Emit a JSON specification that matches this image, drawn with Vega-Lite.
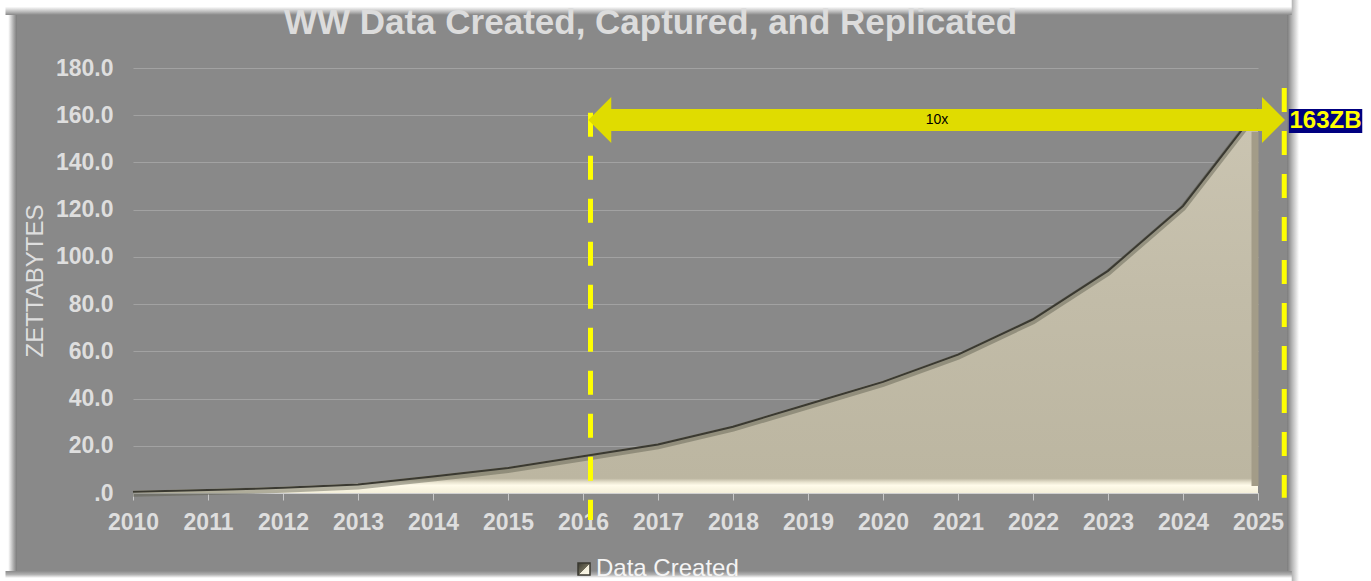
{
  "$schema": "https://vega.github.io/schema/vega-lite/v6.json",
  "width": 1125,
  "height": 425,
  "autosize": {"type": "none"},
  "padding": {"left": 133, "top": 68, "right": 113, "bottom": 88},
  "background": "#898989",
  "title": {
    "text": "WW Data Created, Captured, and Replicated",
    "font": "Liberation Sans",
    "fontSize": 35,
    "fontWeight": "bold",
    "color": "#dcdcdc",
    "anchor": "middle",
    "frame": "group",
    "dx": -45,
    "offset": -41
  },
  "config": {
    "view": {"stroke": null},
    "font": "Liberation Sans"
  },
  "data": {
    "values": [
      {"year": 2010, "zb": 1.0},
      {"year": 2011, "zb": 1.7},
      {"year": 2012, "zb": 2.6},
      {"year": 2013, "zb": 4.0},
      {"year": 2014, "zb": 7.4},
      {"year": 2015, "zb": 11.0},
      {"year": 2016, "zb": 16.0},
      {"year": 2017, "zb": 21.0},
      {"year": 2018, "zb": 28.5},
      {"year": 2019, "zb": 38.0},
      {"year": 2020, "zb": 47.5},
      {"year": 2021, "zb": 59.0},
      {"year": 2022, "zb": 74.0},
      {"year": 2023, "zb": 94.5},
      {"year": 2024, "zb": 122.0},
      {"year": 2025, "zb": 163.0}
    ]
  },
  "layer": [
    {
      "data": {"values": [{}]},
      "mark": {"type": "rect", "clip": false, "fill": {"gradient": "linear", "x1": 0, "y1": 0, "x2": 1, "y2": 0,
        "stops": [{"offset": 0, "color": "#7c7c7c"}, {"offset": 0.03, "color": "#b5b5b5"}, {"offset": 0.075, "color": "#ffffff"}, {"offset": 1, "color": "#ffffff"}]}},
      "encoding": {"x": {"datum": 2025.39}, "x2": {"datum": 2027.5}, "y": {"datum": 208.8}, "y2": {"datum": -38}}
    },
    {
      "data": {"values": [{}]},
      "mark": {"type": "rect", "clip": false, "fill": {"gradient": "linear", "x1": 0, "y1": 0, "x2": 1, "y2": 0,
        "stops": [{"offset": 0, "color": "#ffffff"}, {"offset": 0.88, "color": "#ffffff"}, {"offset": 0.95, "color": "#b0b0b0"}, {"offset": 1, "color": "#7c7c7c"}]}},
      "encoding": {"x": {"datum": 2007.5}, "x2": {"datum": 2008.45}, "y": {"datum": 208.8}, "y2": {"datum": -38}}
    },
    {
      "data": {"values": [{}]},
      "mark": {"type": "rect", "clip": false, "fill": {"gradient": "linear", "x1": 0, "y1": 0, "x2": 0, "y2": 1,
        "stops": [{"offset": 0, "color": "#ffffff"}, {"offset": 0.45, "color": "#ffffff"}, {"offset": 0.8, "color": "#b8b8b8"}, {"offset": 1, "color": "#898989"}]}},
      "encoding": {"x": {"datum": 2008.3}, "x2": {"datum": 2025.45}, "y": {"datum": 208.8}, "y2": {"datum": 202.5}}
    },
    {
      "data": {"values": [{}]},
      "mark": {"type": "rect", "clip": false, "fill": {"gradient": "linear", "x1": 0, "y1": 0, "x2": 0, "y2": 1,
        "stops": [{"offset": 0, "color": "#898989"}, {"offset": 0.3, "color": "#b0b0b0"}, {"offset": 0.6, "color": "#ffffff"}, {"offset": 1, "color": "#ffffff"}]}},
      "encoding": {"x": {"datum": 2008.3}, "x2": {"datum": 2025.45}, "y": {"datum": -33}, "y2": {"datum": -38}}
    },
    {
      "mark": {
        "type": "area",
        "interpolate": "linear",
        "fill": {
          "gradient": "linear", "x1": 0, "y1": 0, "x2": 0, "y2": 1,
          "stops": [
            {"offset": 0, "color": "#cbc5b2"},
            {"offset": 0.5, "color": "#c2bca8"},
            {"offset": 0.962, "color": "#bcb6a1"},
            {"offset": 0.972, "color": "#e8e3cf"},
            {"offset": 0.98, "color": "#fffbea"},
            {"offset": 1, "color": "#f4efda"}
          ]
        }
      },
      "encoding": {
        "x": {
          "field": "year", "type": "quantitative",
          "scale": {"domain": [2010, 2025], "nice": false, "zero": false},
          "axis": {
            "title": null,
            "values": [2010, 2011, 2012, 2013, 2014, 2015, 2016, 2017, 2018, 2019, 2020, 2021, 2022, 2023, 2024, 2025],
            "format": "d",
            "labelFont": "Liberation Sans",
            "labelFontSize": 23,
            "labelFontWeight": "bold",
            "labelColor": "#dedede",
            "labelPadding": 11,
            "labelFlush": false,
            "labelOverlap": false,
            "tickColor": "#c8c8c8",
            "tickSize": 7,
            "domainColor": "#d0d0d0",
            "grid": false
          }
        },
        "y": {
          "field": "zb", "type": "quantitative",
          "scale": {"domain": [0, 180], "nice": false},
          "axis": {
            "title": "ZETTABYTES",
            "values": [0, 20, 40, 60, 80, 100, 120, 140, 160, 180],
            "labelExpr": "datum.value == 0 ? '.0' : format(datum.value, '.1f')",
            "labelFont": "Liberation Sans",
            "labelFontSize": 23,
            "labelFontWeight": "bold",
            "labelColor": "#dedede",
            "labelPadding": 20,
            "ticks": false,
            "tickSize": 0,
            "domain": false,
            "grid": true,
            "gridColor": "#a2a2a2",
            "gridWidth": 1,
            "titleFont": "Liberation Sans",
            "titleFontSize": 24,
            "titleFontWeight": "normal",
            "titleColor": "#dedede",
            "titlePadding": 8
          }
        }
      }
    },
    {
      "mark": {"type": "line", "color": "#5c5a4c", "strokeWidth": 6, "yOffset": 3, "opacity": 0.45},
      "encoding": {
        "x": {"field": "year", "type": "quantitative"},
        "y": {"field": "zb", "type": "quantitative"}
      }
    },
    {
      "mark": {"type": "line", "strokeWidth": 2, "yOffset": 1},
      "encoding": {
        "x": {"field": "year", "type": "quantitative"},
        "y": {"field": "zb", "type": "quantitative"},
        "color": {
          "datum": "Data Created",
          "scale": {"range": ["#3a3931"]},
          "legend": {
            "title": null,
            "orient": "none",
            "legendX": 439,
            "legendY": 489,
            "padding": 0,
            "symbolType": "square",
            "symbolSize": 144,
            "labelFont": "Liberation Sans",
            "labelFontSize": 24,
            "labelColor": "#f4f4f4",
            "labelOffset": 0,
            "encode": {
              "symbols": {
                "update": {
                  "fill": {"value": {"gradient": "linear", "x1": 0, "y1": 0, "x2": 1, "y2": 1,
                    "stops": [{"offset": 0, "color": "#3a392f"}, {"offset": 0.5, "color": "#6d6a58"}, {"offset": 0.52, "color": "#f2eedc"}, {"offset": 1, "color": "#fffbea"}]}},
                  "stroke": {"value": "transparent"},
                  "opacity": {"value": 1}
                }
              }
            }
          }
        }
      }
    },
    {
      "data": {"values": [{}]},
      "mark": {"type": "rule", "color": "#a39c88", "strokeWidth": 7, "xOffset": -3},
      "encoding": {"x": {"datum": 2025}, "y": {"datum": 3}, "y2": {"datum": 153}}
    },
    {
      "data": {"values": [{}]},
      "mark": {"type": "rule", "color": "#ffff00", "strokeWidth": 5, "strokeDash": [24, 19], "strokeCap": "butt"},
      "encoding": {"x": {"datum": 2016.1}, "y": {"datum": 161}, "y2": {"datum": -11.4}}
    },
    {
      "data": {"values": [{}]},
      "mark": {"type": "rule", "color": "#ffff00", "strokeWidth": 5, "strokeDash": [24, 19], "strokeCap": "butt"},
      "encoding": {"x": {"datum": 2025.35}, "y": {"datum": 171.5}, "y2": {"datum": -2}}
    },
    {
      "data": {"values": [{}]},
      "mark": {"type": "rule", "color": "#e0dc00", "strokeWidth": 22, "strokeCap": "butt"},
      "encoding": {"x": {"datum": 2016.3}, "x2": {"datum": 2025.06}, "y": {"datum": 158}}
    },
    {
      "data": {"values": [{}]},
      "mark": {"type": "point", "shape": "M0,0L1,-1L1,1Z", "filled": true, "color": "#e0dc00", "opacity": 1, "size": 2116, "strokeWidth": 0},
      "encoding": {"x": {"datum": 2016.07}, "y": {"datum": 158}}
    },
    {
      "data": {"values": [{}]},
      "mark": {"type": "point", "shape": "M0,0L-1,-1L-1,1Z", "filled": true, "color": "#e0dc00", "opacity": 1, "size": 2116, "strokeWidth": 0},
      "encoding": {"x": {"datum": 2025.36}, "y": {"datum": 158}}
    },
    {
      "data": {"values": [{"label": "10x"}]},
      "mark": {"type": "text", "font": "Liberation Sans", "fontSize": 14, "color": "#000000", "align": "center", "baseline": "middle"},
      "encoding": {"x": {"datum": 2020.72}, "y": {"datum": 158}, "text": {"field": "label"}}
    },
    {
      "data": {"values": [{}]},
      "mark": {"type": "rect", "color": "#000080", "clip": false},
      "encoding": {"x": {"datum": 2025.41}, "x2": {"datum": 2026.39}, "y": {"datum": 162.6}, "y2": {"datum": 152.5}}
    },
    {
      "data": {"values": [{"label": "163ZB"}]},
      "mark": {"type": "text", "font": "Liberation Sans", "fontSize": 24, "fontWeight": "bold", "color": "#ffff00", "align": "center", "baseline": "middle"},
      "encoding": {"x": {"datum": 2025.9}, "y": {"datum": 157.4}, "text": {"field": "label"}}
    }
  ]
}
